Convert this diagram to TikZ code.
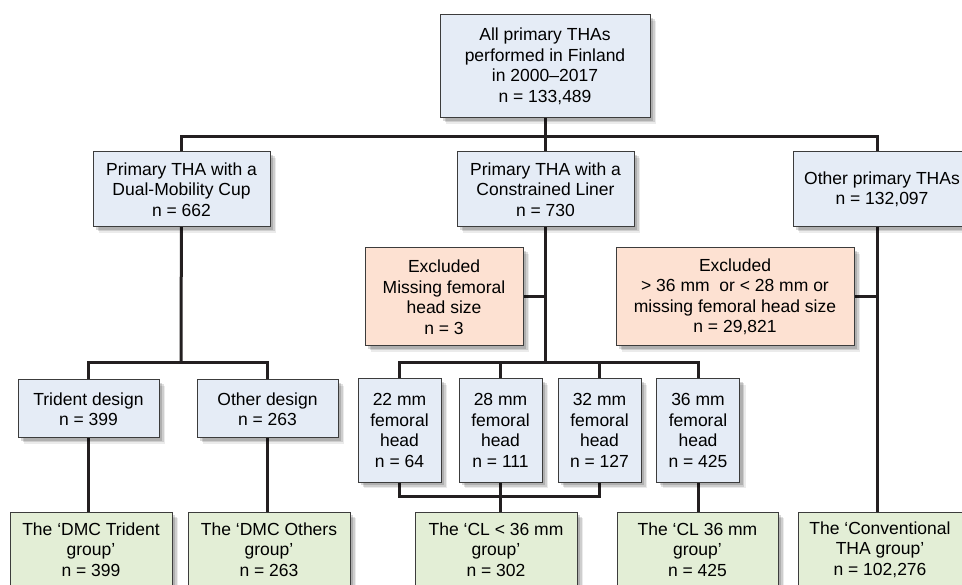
\documentclass[tikz,border=0pt]{standalone}
\usepackage{fontspec}
\setmainfont{Liberation Sans}
\usetikzlibrary{shadows,backgrounds}
\definecolor{bluefill}{HTML}{E5ECF6}
\definecolor{orangefill}{HTML}{FDE1D2}
\definecolor{greenfill}{HTML}{E3EED6}
\definecolor{boxline}{HTML}{3C3C3C}
\definecolor{connline}{HTML}{231F20}
\tikzset{
  box/.style={draw=boxline, line width=1pt, inner sep=0pt, align=center,
    font=\fontsize{17.5}{20.5}\selectfont,
    drop shadow={shadow xshift=6pt, shadow yshift=-6pt, opacity=0.08, fill=black},
    drop shadow={shadow xshift=4.5pt, shadow yshift=-4.5pt, opacity=0.12, fill=black},
    drop shadow={shadow xshift=3pt, shadow yshift=-3pt, opacity=0.15, fill=black}},
  bluebox/.style={box, fill=bluefill},
  orangebox/.style={box, fill=orangefill},
  greenbox/.style={box, fill=greenfill},
  conn/.style={draw=connline, line width=3pt, line cap=butt, line join=miter}
}
\begin{document}
\begin{tikzpicture}[x=1pt,y=-1pt]
\useasboundingbox (0,0) rectangle (962,585);
% level 0
\node[bluebox, minimum width=210, minimum height=103] (top) at (545,66.5)
  {All primary THAs\\performed in Finland\\in 2000–2017\\n = 133,489};
% level 1
\node[bluebox, minimum width=177, minimum height=75] (dmc) at (181.5,189.5)
  {Primary THA with a\\Dual-Mobility Cup\\n = 662};
\node[bluebox, minimum width=177, minimum height=75] (cl) at (545.5,189.5)
  {Primary THA with a\\Constrained Liner\\n = 730};
\node[bluebox, minimum width=178, minimum height=75] (other) at (882,189.5)
  {Other primary THAs\\n = 132,097};
% excluded
\node[orangebox, minimum width=158, minimum height=98] (ex1) at (444,297)
  {Excluded\\Missing femoral\\head size\\n = 3};
\node[orangebox, minimum width=238, minimum height=98] (ex2) at (735,297)
  {Excluded\\> 36 mm\ \ or < 28 mm or\\missing femoral head size\\n = 29,821};
% level 2
\node[bluebox, minimum width=141, minimum height=58] (trident) at (88.5,409)
  {Trident design\\n = 399};
\node[bluebox, minimum width=141, minimum height=58] (odesign) at (267.5,409)
  {Other design\\n = 263};
\node[bluebox, minimum width=83, minimum height=103] (h22) at (399.5,430.5)
  {22 mm\\femoral\\head\\n = 64};
\node[bluebox, minimum width=83, minimum height=103] (h28) at (500.5,430.5)
  {28 mm\\femoral\\head\\n = 111};
\node[bluebox, minimum width=83, minimum height=103] (h32) at (599.5,430.5)
  {32 mm\\femoral\\head\\n = 127};
\node[bluebox, minimum width=83, minimum height=103] (h36) at (698,430.5)
  {36 mm\\femoral\\head\\n = 425};
% groups
\node[greenbox, minimum width=162, minimum height=75] (g1) at (91,549.5)
  {The ‘DMC Trident\\group’\\n = 399};
\node[greenbox, minimum width=162, minimum height=75] (g2) at (269,549.5)
  {The ‘DMC Others\\group’\\n = 263};
\node[greenbox, minimum width=162, minimum height=75] (g3) at (496,549.5)
  {The ‘CL < 36 mm\\group’\\n = 302};
\node[greenbox, minimum width=161, minimum height=75] (g4) at (697.5,549.5)
  {The ‘CL 36 mm\\group’\\n = 425};
\node[greenbox, minimum width=164, minimum height=75] (g5) at (880,549.5)
  {The ‘Conventional\\THA group’\\n = 102,276};
% junctions
\coordinate (tj) at (545,137);
\coordinate (dj) at (181,363);
\coordinate (cj) at (547,363);
\coordinate (lj) at (499,496);
\coordinate (oline) at (877,0);
\begin{pgfonlayer}{background}
\draw[conn] (top.center) -- (tj);
\draw[conn] (dmc.center) |- (tj) -| (oline |- other.north);
\draw[conn] (cl.center) -- (cl.center |- tj);
% constrained liner branch
\draw[conn] (cl.center) -- (cl.center |- cj);
\draw[conn] (ex1.east) -- (ex1.east -| cl.center);
\draw[conn] (h22.center) |- (cj) -| (h36.center);
\draw[conn] (h28.center) -- (h28.center |- cj);
\draw[conn] (h32.center) -- (h32.center |- cj);
\draw[conn] (h22.center) |- (lj) -| (h32.center);
\draw[conn] (h28.center) -- (h28.center |- g3.north);
\draw[conn] (h36.center) -- (h36.center |- g4.north);
% other branch
\draw[conn] (oline |- other.center) -- (oline |- g5.north);
\draw[conn] (ex2.east) -- (ex2.east -| oline);
% dual mobility branch
\draw[conn] (dmc.center) -- (dj);
\draw[conn] (trident.center) |- (dj) -| (odesign.center);
\draw[conn] (trident.center) -- (trident.center |- g1.north);
\draw[conn] (odesign.center) -- (odesign.center |- g2.north);
\end{pgfonlayer}
\end{tikzpicture}
\end{document}
